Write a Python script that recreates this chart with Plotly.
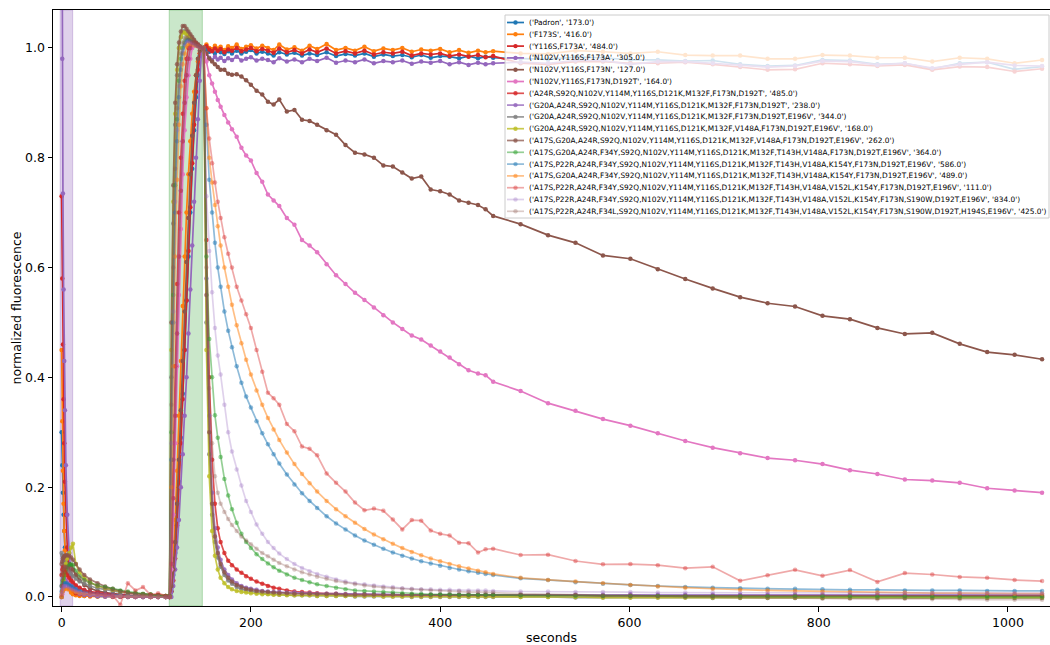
import plotly.graph_objects as go

# ---------------- data ----------------
seconds = [
    0, 0.7, 1.4, 2.1, 2.8, 3.5, 4.5, 6, 8, 10, 12, 15, 19, 24, 30, 38, 46, 54, 62, 70, 78, 86, 94, 102, 110, 114,
    116, 118, 120, 122, 124, 126, 128, 130, 132, 134, 136, 138, 140, 142, 144, 146, 148,
    150, 153, 156, 159, 162, 165, 168, 172, 176, 180, 185, 190, 195, 200, 206, 212, 218, 224, 230, 238,
    246, 254, 262, 270, 280, 290, 300, 310, 320, 330, 340, 350, 360, 370, 380, 390, 400, 410, 420, 430,
    440, 448, 456,
    485, 514, 543, 572, 601, 630, 659, 688, 717, 746, 775, 804, 833, 862, 891, 920, 949, 978, 1007, 1036]

padron = [
    0.30, 0.24, 0.19, 0.15, 0.12, 0.09, 0.065, 0.04, 0.02, 0.01, 0.006, 0.004, 0.003, 0.002, 0.002, 0.001, 0.001, 0.001, 0.001, 0.0, 0.0, 0.0, 0.0, 0.0, 0.0, 0.0,
    0.01, 0.04, 0.08, 0.14, 0.21, 0.29, 0.37, 0.45, 0.54, 0.62, 0.70, 0.78, 0.85, 0.91, 0.95, 0.985, 1.0,
    1.0, 0.997, 0.993, 0.995, 0.99, 0.996, 0.992, 0.989, 0.994, 0.99, 0.995, 0.99, 0.993, 0.996, 0.99, 0.993, 0.99, 0.986, 0.992, 0.988,
    0.991, 0.986, 0.99, 0.987, 0.992, 0.985, 0.989, 0.986, 0.99, 0.984, 0.988, 0.985, 0.987, 0.983, 0.987, 0.982, 0.985, 0.984, 0.981, 0.985,
    0.981, 0.984, 0.982,
    0.98, 0.979, 0.983, 0.982, 0.978, 0.978, 0.976, 0.977, 0.97, 0.967, 0.968, 0.978, 0.977, 0.97, 0.972, 0.962, 0.972, 0.974, 0.961, 0.966]

f173s = [
    0.45, 0.32, 0.23, 0.17, 0.12, 0.085, 0.055, 0.03, 0.015, 0.008, 0.005, 0.003, 0.002, 0.002, 0.001, 0.001, 0.001, 0.0, 0.0, 0.0, 0.0, 0.0, 0.0, 0.0, 0.0, 0.0,
    0.02, 0.07, 0.14, 0.23, 0.33, 0.43, 0.53, 0.62, 0.70, 0.77, 0.83, 0.88, 0.92, 0.95, 0.975, 0.99, 1.0,
    1.0, 1.006, 1.0, 0.998, 1.004, 0.999, 1.002, 0.996, 1.003, 1.0, 1.006, 0.998, 1.002, 1.005, 0.999, 1.004, 1.0, 0.996, 1.006, 0.997,
    1.001, 0.995, 1.004, 0.998, 1.007, 0.996, 1.0, 0.995, 1.002, 0.994, 0.999, 0.996, 1.0, 0.993, 0.997, 0.995, 0.998, 0.992, 0.996, 0.991,
    0.995, 0.992, 0.994,
    0.99, 0.989, 0.995, 0.993, 0.99, 0.993, 0.987, 0.986, 0.986, 0.98, 0.98, 0.987, 0.986, 0.982, 0.982, 0.975, 0.982, 0.98, 0.972, 0.978]

y116s_f173a = [
    0.73, 0.58, 0.46, 0.36, 0.28, 0.21, 0.15, 0.09, 0.05, 0.025, 0.012, 0.007, 0.005, 0.004, 0.003, 0.002, 0.002, 0.001, 0.001, 0.001, 0.0, 0.0, 0.0, 0.0, 0.0, 0.0,
    0.01, 0.03, 0.07, 0.13, 0.2, 0.28, 0.36, 0.45, 0.54, 0.63, 0.71, 0.79, 0.86, 0.92, 0.96, 0.99, 1.0,
    1.0, 1.003, 0.997, 0.994, 0.999, 0.995, 0.998, 0.992, 0.997, 0.995, 1.0, 0.994, 0.997, 1.0, 0.994, 0.998, 0.995, 0.991, 0.999, 0.992,
    0.996, 0.99, 0.997, 0.992, 0.999, 0.99, 0.994, 0.99, 0.995, 0.988, 0.992, 0.99, 0.993, 0.986, 0.99, 0.988, 0.99, 0.985, 0.988, 0.984,
    0.987, 0.983, 0.985,
    0.972, 0.97, 0.975, 0.975, 0.972, 0.972, 0.974, 0.97, 0.965, 0.96, 0.961, 0.972, 0.97, 0.967, 0.969, 0.96, 0.966, 0.965, 0.957, 0.962]

n102v_f173a = [
    1.5, 0.98, 0.735, 0.56, 0.43, 0.34, 0.24, 0.15, 0.08, 0.04, 0.02, 0.01, 0.006, 0.004, 0.003, 0.002, 0.001, 0.001, 0.001, 0.0, 0.0, 0.0, 0.0, 0.0, 0.0, 0.0,
    0.0, 0.02, 0.05, 0.09, 0.14, 0.2, 0.26, 0.33, 0.4, 0.48, 0.56, 0.64, 0.72, 0.8, 0.87, 0.94, 1.0,
    1.0, 0.99, 0.982, 0.978, 0.984, 0.979, 0.982, 0.976, 0.981, 0.978, 0.984, 0.977, 0.98, 0.983, 0.977, 0.98, 0.978, 0.974, 0.981, 0.975,
    0.979, 0.974, 0.98, 0.976, 0.982, 0.973, 0.977, 0.974, 0.979, 0.972, 0.976, 0.974, 0.977, 0.971, 0.975, 0.973, 0.976, 0.97, 0.974, 0.969,
    0.973, 0.97, 0.972,
    0.974, 0.972, 0.977, 0.977, 0.97, 0.975, 0.975, 0.972, 0.968, 0.965, 0.967, 0.976, 0.975, 0.969, 0.972, 0.963, 0.97, 0.974, 0.968, 0.967]

n102v_f173n = [
    0.0, 0.01, 0.02, 0.03, 0.04, 0.045, 0.05, 0.055, 0.06, 0.058, 0.05, 0.04, 0.03, 0.022, 0.016, 0.011, 0.008, 0.006, 0.004, 0.003, 0.002, 0.002, 0.001, 0.001, 0.0, 0.0,
    0.02, 0.05, 0.1, 0.17, 0.25, 0.34, 0.43, 0.52, 0.61, 0.69, 0.77, 0.84, 0.9, 0.95, 0.98, 0.995, 1.0,
    1.0, 0.99, 0.98, 0.975, 0.97, 0.965, 0.96, 0.96, 0.953, 0.951, 0.952, 0.948, 0.941, 0.933, 0.922, 0.915, 0.902, 0.897, 0.906, 0.884,
    0.887, 0.869, 0.867, 0.86, 0.85, 0.842, 0.823, 0.809, 0.806, 0.8, 0.786, 0.784, 0.773, 0.762, 0.766, 0.742, 0.739, 0.733, 0.722, 0.718,
    0.714, 0.706, 0.694,
    0.679, 0.659, 0.645, 0.622, 0.616, 0.597, 0.579, 0.562, 0.546, 0.535, 0.529, 0.512, 0.506, 0.49, 0.479, 0.481, 0.461, 0.446, 0.441, 0.433]

n102v_f173n_d192t = [
    0.0, 0.005, 0.01, 0.015, 0.02, 0.025, 0.03, 0.032, 0.03, 0.027, 0.024, 0.02, 0.016, 0.012, 0.009, 0.007, 0.005, 0.004, 0.003, 0.002, 0.002, 0.001, 0.001, 0.0, 0.0, 0.0,
    0.05, 0.15, 0.28, 0.42, 0.55, 0.67, 0.77, 0.85, 0.91, 0.95, 0.98, 1.0, 1.005, 1.005, 1.003, 1.001, 1.0,
    1.0, 0.975, 0.95, 0.935, 0.92, 0.905, 0.893, 0.878, 0.864, 0.852, 0.838, 0.818, 0.804, 0.795, 0.772, 0.756, 0.733, 0.722, 0.712, 0.69,
    0.678, 0.65, 0.64, 0.628, 0.606, 0.586, 0.57, 0.554, 0.541, 0.527, 0.513, 0.5, 0.488, 0.476, 0.469, 0.458, 0.447, 0.436, 0.424, 0.413,
    0.407, 0.404, 0.392,
    0.375, 0.353, 0.339, 0.324, 0.312, 0.298, 0.284, 0.272, 0.262, 0.253, 0.249, 0.242, 0.231, 0.224, 0.214, 0.212, 0.208, 0.198, 0.194, 0.19]

v485 = [
    0.04, 0.05, 0.055, 0.055, 0.05, 0.048, 0.045, 0.04, 0.035, 0.03, 0.026, 0.021, 0.017, 0.013, 0.01, 0.008, 0.006, 0.005, 0.004, 0.003, 0.002, 0.002, 0.001, 0.001, 0.001, 0.0,
    0.1, 0.25, 0.42, 0.57, 0.7, 0.8, 0.88, 0.94, 0.98, 1.0, 1.01, 1.012, 1.01, 1.008, 1.005, 1.002, 1.0,
    1.0, 0.65, 0.4, 0.25, 0.17, 0.125, 0.1, 0.08, 0.066, 0.058, 0.05, 0.044, 0.038, 0.033, 0.028, 0.024, 0.02, 0.017, 0.015, 0.012,
    0.01, 0.009, 0.008, 0.007, 0.006, 0.006, 0.005, 0.005, 0.005, 0.004, 0.004, 0.004, 0.004, 0.004, 0.003, 0.003, 0.003, 0.003, 0.003, 0.003,
    0.003, 0.003, 0.003,
    0.003, 0.003, 0.003, 0.002, 0.003, 0.002, 0.002, 0.002, 0.002, 0.002, 0.002, 0.002, 0.002, 0.002, 0.002, 0.002, 0.002, 0.002, 0.002, 0.002]

v238 = [
    0.02, 0.03, 0.035, 0.035, 0.033, 0.03, 0.028, 0.025, 0.022, 0.02, 0.017, 0.014, 0.011, 0.008, 0.006, 0.005, 0.004, 0.003, 0.002, 0.002, 0.001, 0.001, 0.001, 0.0, 0.0, 0.0,
    0.06, 0.18, 0.33, 0.48, 0.62, 0.74, 0.83, 0.9, 0.95, 0.98, 1.0, 1.01, 1.01, 1.008, 1.005, 1.002, 1.0,
    1.0, 0.58, 0.33, 0.19, 0.125, 0.09, 0.068, 0.05, 0.04, 0.032, 0.025, 0.02, 0.017, 0.015, 0.013, 0.011, 0.01, 0.009, 0.009, 0.008,
    0.008, 0.007, 0.007, 0.006, 0.006, 0.006, 0.005, 0.005, 0.005, 0.005, 0.005, 0.005, 0.004, 0.004, 0.004, 0.004, 0.004, 0.004, 0.004, 0.004,
    0.004, 0.004, 0.004,
    0.004, 0.004, 0.004, 0.004, 0.005, 0.004, 0.004, 0.004, 0.004, 0.004, 0.004, 0.004, 0.004, 0.004, 0.004, 0.004, 0.004, 0.004, 0.004, 0.004]

v344 = [
    0.08, 0.075, 0.07, 0.066, 0.062, 0.058, 0.054, 0.05, 0.046, 0.042, 0.038, 0.033, 0.028, 0.024, 0.02, 0.016, 0.013, 0.011, 0.009, 0.007, 0.006, 0.005, 0.004, 0.003, 0.002, 0.002,
    0.4, 0.68, 0.86, 0.95, 1.0, 1.02, 1.03, 1.03, 1.028, 1.024, 1.02, 1.016, 1.012, 1.008, 1.005, 1.002, 1.0,
    1.0, 0.5, 0.26, 0.15, 0.1, 0.072, 0.055, 0.04, 0.03, 0.024, 0.018, 0.014, 0.012, 0.01, 0.008, 0.007, 0.006, 0.005, 0.004, 0.004,
    0.003, 0.003, 0.003, 0.002, 0.002, 0.002, 0.002, 0.001, 0.001, 0.001, 0.001, 0.001, 0.001, 0.0, 0.0, 0.0, 0.0, 0.0, 0.0, 0.0,
    0.0, 0.0, 0.0,
    0.0, 0.0, -0.001, -0.001, -0.001, -0.001, -0.001, -0.002, -0.002, -0.002, -0.002, -0.002, -0.002, -0.002, -0.002, -0.002, -0.002, -0.002, -0.002, -0.002]

v168 = [
    0.0, 0.01, 0.02, 0.03, 0.04, 0.05, 0.06, 0.07, 0.08, 0.09, 0.097, 0.06, 0.045, 0.035, 0.027, 0.02, 0.016, 0.013, 0.01, 0.008, 0.006, 0.005, 0.004, 0.003, 0.002, 0.002,
    0.45, 0.72, 0.88, 0.96, 1.0, 1.02, 1.028, 1.028, 1.025, 1.022, 1.018, 1.014, 1.01, 1.007, 1.004, 1.002, 1.0,
    1.0, 0.45, 0.22, 0.12, 0.075, 0.05, 0.035, 0.025, 0.018, 0.014, 0.011, 0.009, 0.008, 0.007, 0.006, 0.005, 0.005, 0.004, 0.004, 0.003,
    0.003, 0.003, 0.003, 0.002, 0.002, 0.002, 0.002, 0.002, 0.002, 0.002, 0.001, 0.001, 0.001, 0.001, 0.001, 0.001, 0.001, 0.001, 0.001, 0.001,
    0.001, 0.001, 0.001,
    0.0, 0.0, 0.0, -0.001, -0.001, -0.001, -0.001, -0.001, -0.001, -0.001, -0.001, -0.001, -0.001, -0.001, -0.001, -0.001, -0.001, -0.001, -0.001, -0.001]

v262 = [
    0.06, 0.065, 0.07, 0.072, 0.074, 0.075, 0.076, 0.076, 0.075, 0.072, 0.068, 0.06, 0.05, 0.04, 0.032, 0.025, 0.019, 0.015, 0.011, 0.008, 0.006, 0.005, 0.004, 0.003, 0.002, 0.002,
    0.5, 0.75, 0.9, 0.97, 1.01, 1.03, 1.04, 1.04, 1.035, 1.03, 1.025, 1.02, 1.015, 1.01, 1.007, 1.003, 1.0,
    1.0, 0.55, 0.3, 0.17, 0.11, 0.08, 0.06, 0.045, 0.035, 0.028, 0.022, 0.018, 0.015, 0.013, 0.011, 0.01, 0.009, 0.008, 0.007, 0.007,
    0.006, 0.006, 0.006, 0.005, 0.005, 0.005, 0.004, 0.004, 0.004, 0.004, 0.004, 0.004, 0.004, 0.003, 0.003, 0.003, 0.003, 0.003, 0.003, 0.003,
    0.003, 0.003, 0.003,
    0.003, 0.003, 0.003, 0.002, 0.002, 0.002, 0.002, 0.002, 0.002, 0.002, 0.002, 0.002, 0.002, 0.002, 0.002, 0.002, 0.002, 0.002, 0.002, 0.002]

v364 = [
    0.02, 0.025, 0.03, 0.035, 0.04, 0.045, 0.05, 0.055, 0.058, 0.06, 0.058, 0.048, 0.038, 0.031, 0.026, 0.021, 0.018, 0.015, 0.012, 0.01, 0.008, 0.006, 0.005, 0.003, 0.002, 0.002,
    0.3, 0.55, 0.75, 0.87, 0.94, 0.98, 1.0, 1.01, 1.015, 1.015, 1.012, 1.01, 1.008, 1.006, 1.004, 1.002, 1.0,
    1.0, 0.62, 0.47, 0.4, 0.331, 0.29, 0.255, 0.215, 0.185, 0.16, 0.135, 0.115, 0.1, 0.089, 0.078, 0.069, 0.061, 0.054, 0.048, 0.041,
    0.035, 0.031, 0.027, 0.023, 0.02, 0.017, 0.014, 0.012, 0.011, 0.01, 0.009, 0.008, 0.007, 0.006, 0.006, 0.005, 0.005, 0.005, 0.004, 0.004,
    0.004, 0.004, 0.004,
    0.003, 0.003, 0.002, 0.002, 0.002, 0.002, 0.001, 0.001, 0.001, 0.001, 0.001, 0.001, 0.001, 0.0, 0.0, 0.0, 0.0, 0.0, 0.0, 0.0]

v586 = [
    0.01, 0.015, 0.02, 0.022, 0.024, 0.025, 0.025, 0.024, 0.022, 0.02, 0.018, 0.015, 0.012, 0.01, 0.008, 0.006, 0.005, 0.004, 0.003, 0.002, 0.002, 0.001, 0.001, 0.001, 0.0, 0.0,
    0.25, 0.5, 0.7, 0.83, 0.91, 0.96, 0.99, 1.005, 1.012, 1.014, 1.012, 1.01, 1.008, 1.006, 1.004, 1.002, 1.0,
    1.0, 0.86, 0.76, 0.7, 0.645, 0.6, 0.565, 0.52, 0.485, 0.455, 0.42, 0.39, 0.365, 0.345, 0.32, 0.298, 0.278, 0.26, 0.243, 0.223,
    0.205, 0.189, 0.175, 0.162, 0.147, 0.134, 0.123, 0.112, 0.103, 0.095, 0.088, 0.081, 0.075, 0.07, 0.065, 0.061, 0.057, 0.053, 0.05, 0.047,
    0.044, 0.042, 0.04,
    0.034, 0.031, 0.027, 0.024, 0.022, 0.02, 0.018, 0.017, 0.016, 0.015, 0.015, 0.014, 0.013, 0.013, 0.012, 0.012, 0.012, 0.011, 0.011, 0.011]

v489 = [
    0.005, 0.01, 0.012, 0.014, 0.015, 0.015, 0.015, 0.014, 0.013, 0.012, 0.01, 0.008, 0.007, 0.006, 0.005, 0.004, 0.003, 0.002, 0.002, 0.001, 0.001, 0.001, 0.0, 0.0, 0.0, 0.0,
    0.2, 0.42, 0.62, 0.76, 0.86, 0.93, 0.97, 0.99, 1.003, 1.008, 1.008, 1.006, 1.005, 1.004, 1.003, 1.001, 1.0,
    1.0, 0.89, 0.8, 0.755, 0.714, 0.675, 0.64, 0.6, 0.565, 0.532, 0.495, 0.462, 0.432, 0.405, 0.376, 0.35, 0.326, 0.305, 0.286, 0.263,
    0.242, 0.224, 0.207, 0.192, 0.175, 0.16, 0.147, 0.135, 0.124, 0.114, 0.105, 0.097, 0.089, 0.082, 0.076, 0.07, 0.065, 0.06, 0.056, 0.052,
    0.048, 0.045, 0.042,
    0.035, 0.031, 0.028, 0.025, 0.022, 0.019, 0.017, 0.015, 0.013, 0.012, 0.011, 0.01, 0.009, 0.008, 0.008, 0.007, 0.007, 0.007, 0.006, 0.006]

v111 = [
    0.0, 0.02, 0.04, 0.05, 0.055, 0.05, 0.045, 0.04, 0.035, 0.03, 0.028, 0.022, 0.017, 0.012, 0.008, 0.006, 0.004, 0.003, -0.014, 0.025, 0.012, 0.018, 0.004, 0.007, 0.002, 0.0,
    0.06, 0.18, 0.33, 0.48, 0.62, 0.74, 0.83, 0.9, 0.95, 0.98, 1.0, 1.01, 1.01, 1.008, 1.005, 1.002, 1.0,
    1.0, 0.89, 0.835, 0.79, 0.755, 0.72, 0.69, 0.655, 0.625, 0.6, 0.565, 0.54, 0.515, 0.49, 0.45, 0.41, 0.372, 0.362, 0.35, 0.315,
    0.302, 0.274, 0.27, 0.258, 0.225, 0.208, 0.192, 0.172, 0.158, 0.161, 0.157, 0.141, 0.123, 0.14, 0.139, 0.121, 0.115, 0.112, 0.099, 0.098,
    0.081, 0.087, 0.088,
    0.0765, 0.077, 0.0655, 0.0595, 0.06, 0.058, 0.0525, 0.055, 0.0295, 0.0395, 0.0495, 0.0385, 0.049, 0.0275, 0.0435, 0.041, 0.0365, 0.035, 0.031, 0.029]

v834 = [
    0.005, 0.01, 0.015, 0.018, 0.02, 0.02, 0.02, 0.019, 0.017, 0.015, 0.013, 0.011, 0.009, 0.007, 0.005, 0.004, 0.003, 0.002, 0.002, 0.001, 0.001, 0.0, 0.0, 0.0, 0.0, 0.0,
    0.28, 0.52, 0.72, 0.85, 0.93, 0.97, 0.995, 1.007, 1.012, 1.012, 1.01, 1.008, 1.006, 1.004, 1.003, 1.001, 1.0,
    1.0, 0.73, 0.63, 0.555, 0.49, 0.44, 0.405, 0.35, 0.3, 0.265, 0.232, 0.203, 0.175, 0.155, 0.132, 0.115, 0.1, 0.089, 0.079, 0.069,
    0.06, 0.053, 0.047, 0.042, 0.037, 0.032, 0.028, 0.025, 0.023, 0.021, 0.019, 0.018, 0.016, 0.015, 0.014, 0.014, 0.013, 0.013, 0.012, 0.012,
    0.012, 0.012, 0.011,
    0.01, 0.01, 0.009, 0.009, 0.009, 0.008, 0.008, 0.008, 0.008, 0.008, 0.008, 0.007, 0.007, 0.007, 0.007, 0.007, 0.007, 0.007, 0.007, 0.007]

v425 = [
    0.04, 0.045, 0.05, 0.052, 0.054, 0.055, 0.055, 0.054, 0.052, 0.05, 0.047, 0.042, 0.036, 0.03, 0.025, 0.02, 0.016, 0.013, 0.01, 0.008, 0.006, 0.005, 0.004, 0.003, 0.002, 0.001,
    0.35, 0.6, 0.78, 0.89, 0.95, 0.99, 1.01, 1.018, 1.02, 1.018, 1.015, 1.012, 1.009, 1.006, 1.004, 1.002, 1.0,
    1.0, 0.6, 0.38, 0.28, 0.22, 0.19, 0.17, 0.155, 0.142, 0.131, 0.12, 0.11, 0.103, 0.096, 0.088, 0.08, 0.074, 0.068, 0.062, 0.056,
    0.05, 0.045, 0.041, 0.037, 0.033, 0.029, 0.026, 0.023, 0.021, 0.019, 0.017, 0.016, 0.015, 0.014, 0.013, 0.012, 0.011, 0.01, 0.01, 0.009,
    0.009, 0.008, 0.008,
    0.006, 0.005, 0.004, 0.003, 0.002, 0.001, 0.0, 0.0, -0.001, -0.002, -0.002, -0.003, -0.003, -0.004, -0.003, -0.004, -0.004, -0.005, -0.005, -0.005]

labels = [
    "('Padron', '173.0')",
    "('F173S', '416.0')",
    "('Y116S,F173A', '484.0')",
    "('N102V,Y116S,F173A', '305.0')",
    "('N102V,Y116S,F173N', '127.0')",
    "('N102V,Y116S,F173N,D192T', '164.0')",
    "('A24R,S92Q,N102V,Y114M,Y116S,D121K,M132F,F173N,D192T', '485.0')",
    "('G20A,A24R,S92Q,N102V,Y114M,Y116S,D121K,M132F,F173N,D192T', '238.0')",
    "('G20A,A24R,S92Q,N102V,Y114M,Y116S,D121K,M132F,F173N,D192T,E196V', '344.0')",
    "('G20A,A24R,S92Q,N102V,Y114M,Y116S,D121K,M132F,V148A,F173N,D192T,E196V', '168.0')",
    "('A17S,G20A,A24R,S92Q,N102V,Y114M,Y116S,D121K,M132F,V148A,F173N,D192T,E196V', '262.0')",
    "('A17S,G20A,A24R,F34Y,S92Q,N102V,Y114M,Y116S,D121K,M132F,T143H,V148A,F173N,D192T,E196V', '364.0')",
    "('A17S,P22R,A24R,F34Y,S92Q,N102V,Y114M,Y116S,D121K,M132F,T143H,V148A,K154Y,F173N,D192T,E196V', '586.0')",
    "('A17S,G20A,A24R,F34Y,S92Q,N102V,Y114M,Y116S,D121K,M132F,T143H,V148A,K154Y,F173N,D192T,E196V', '489.0')",
    "('A17S,P22R,A24R,F34Y,S92Q,N102V,Y114M,Y116S,D121K,M132F,T143H,V148A,V152L,K154Y,F173N,D192T,E196V', '111.0')",
    "('A17S,P22R,A24R,F34Y,S92Q,N102V,Y114M,Y116S,D121K,M132F,T143H,V148A,V152L,K154Y,F173N,S190W,D192T,E196V', '834.0')",
    "('A17S,P22R,A24R,F34L,S92Q,N102V,Y114M,Y116S,D121K,M132F,T143H,V148A,V152L,K154Y,F173N,S190W,D192T,H194S,E196V', '425.0')",
]

x_ticks = [0, 200, 400, 600, 800, 1000]
y_ticks = [0.0, 0.2, 0.4, 0.6, 0.8, 1.0]

# ---------------- styling ----------------
series = [padron, f173s, y116s_f173a, n102v_f173a, n102v_f173n, n102v_f173n_d192t,
          v485, v238, v344, v168, v262, v364, v586, v489, v111, v834, v425]

TAB = {
    "blue": (31, 119, 180), "orange": (255, 127, 14), "green": (44, 160, 44),
    "red": (214, 39, 40), "purple": (148, 103, 189), "brown": (140, 86, 75),
    "pink": (227, 119, 194), "gray": (127, 127, 127), "olive": (188, 189, 34),
}
color_names = ["blue", "orange", "red", "purple", "brown", "pink",
               "red", "purple", "gray", "olive", "brown",
               "green", "blue", "orange", "red", "purple", "brown"]
alphas = [1, 1, 1, 1, 1, 1, 0.8, 0.8, 0.8, 0.8, 0.75, 0.5, 0.5, 0.5, 0.4, 0.3, 0.3]


def rgba(name, a):
    r, g, b = TAB[name]
    return f"rgba({r},{g},{b},{a})"


FONT = "DejaVu Sans"
W, H = 1050, 645
ML, MR, MT, MB = 53, 0, 10, 39
PW, PH = W - ML - MR, H - MT - MB


def pxx(px):
    return (px - ML) / PW


def pxy(py):
    return (H - MB - py) / PH


fig = go.Figure()

for vals, lab, cn, a in zip(series, labels, color_names, alphas):
    n = min(len(vals), len(seconds))
    col = rgba(cn, a)
    fig.add_trace(go.Scatter(
        x=seconds[:n], y=vals[:n], mode="lines+markers", name=lab,
        line=dict(color=col, width=1.7),
        marker=dict(color=col, size=4.5, line=dict(width=0)),
        showlegend=False, hoverinfo="skip"))

# shaded illumination windows
fig.add_shape(type="rect", xref="x", yref="paper", x0=-1.5, x1=11.7, y0=0, y1=1,
              fillcolor="rgba(148,103,189,0.3)", line=dict(color="rgba(148,103,189,0.35)", width=1),
              layer="below")
fig.add_shape(type="rect", xref="x", yref="paper", x0=113.7, x1=148.7, y0=0, y1=1,
              fillcolor="rgba(44,160,44,0.25)", line=dict(color="rgba(44,160,44,0.3)", width=1),
              layer="below")

# legend (drawn manually for matplotlib-like compact spacing)
fig.add_shape(type="rect", xref="paper", yref="paper",
              x0=pxx(505), x1=pxx(1049), y0=pxy(218), y1=pxy(15),
              fillcolor="rgba(255,255,255,0.8)", line=dict(color="#cccccc", width=1), layer="above")
row0, drow = 22.5, 11.8
for i, (lab, cn, a) in enumerate(zip(labels, color_names, alphas)):
    yc = pxy(row0 + drow * i)
    col = rgba(cn, a)
    fig.add_shape(type="line", xref="paper", yref="paper", x0=pxx(507), x1=pxx(524), y0=yc, y1=yc,
                  line=dict(color=col, width=1.7), layer="above")
    fig.add_shape(type="circle", xref="paper", yref="paper", xsizemode="pixel", ysizemode="pixel",
                  xanchor=pxx(515.5), yanchor=yc, x0=-2.2, x1=2.2, y0=-2.2, y1=2.2,
                  fillcolor=col, line=dict(width=0), layer="above")
    fig.add_annotation(xref="paper", yref="paper", x=pxx(528), y=yc, text=lab, showarrow=False,
                       xanchor="left", yanchor="middle", borderpad=0,
                       font=dict(family=FONT, size=7.4, color="black"))

fig.update_layout(
    width=W, height=H, margin=dict(l=ML, r=MR, t=MT, b=MB, autoexpand=False),
    paper_bgcolor="white", plot_bgcolor="white",
    font=dict(family=FONT, size=12.5, color="black"),
    showlegend=False,
    xaxis=dict(range=[-9.1, 1044.4], tickvals=x_ticks, ticktext=[str(v) for v in x_ticks],
               ticks="outside", ticklen=4.5, tickwidth=1, tickcolor="black",
               showline=True, linecolor="black", linewidth=1, mirror=True,
               showgrid=False, zeroline=False,
               title=dict(text="seconds", standoff=5, font=dict(family=FONT, size=12.5))),
    yaxis=dict(range=[-0.0164, 1.069], tickvals=y_ticks, ticktext=[f"{v:.1f}" for v in y_ticks],
               ticks="outside", ticklen=4.5, tickwidth=1, tickcolor="black",
               showline=True, linecolor="black", linewidth=1, mirror=False,
               showgrid=False, zeroline=False,
               title=dict(text="normalized fluorescence", standoff=0, font=dict(family=FONT, size=12.5))),
)

fig.write_html("out.html", config={"displayModeBar": False})
